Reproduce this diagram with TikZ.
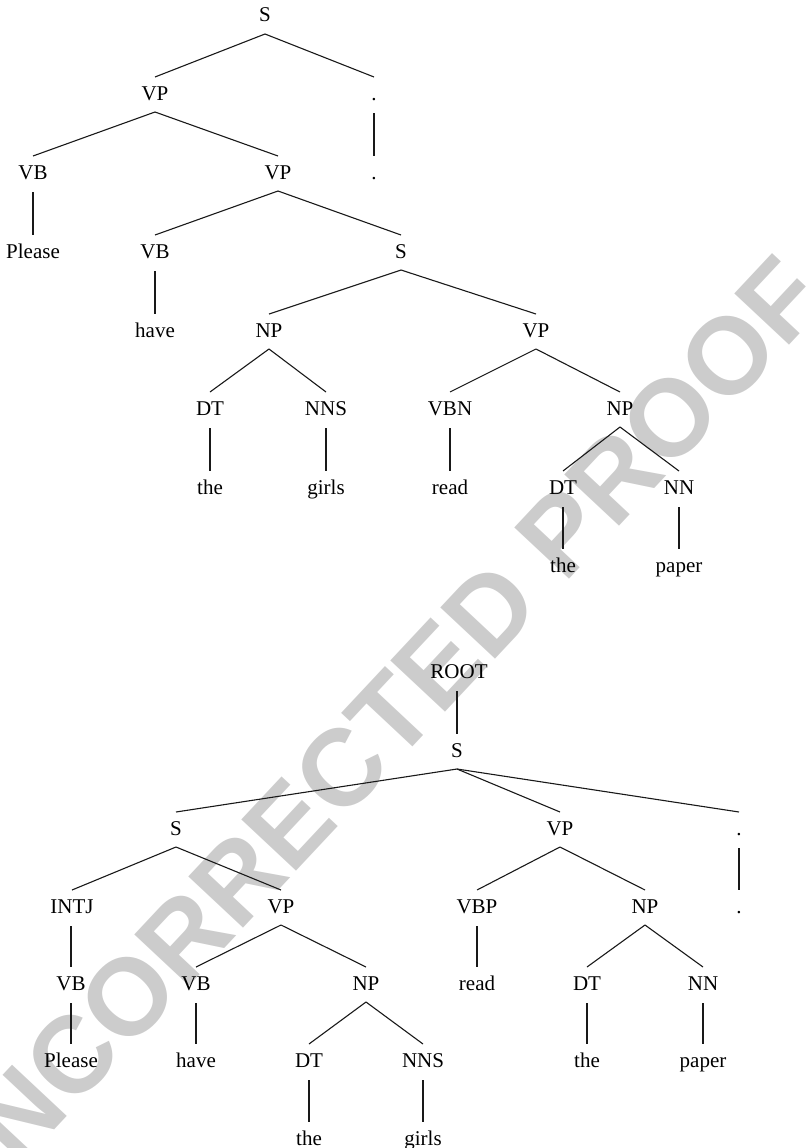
\documentclass[tikz,border=0pt]{standalone}
\usepackage{fontspec}
\setmainfont{Liberation Serif}
\newfontfamily\wmfont{Liberation Sans}
\usetikzlibrary{calc}
\newcommand\brEdge[2]{\draw[edge] ($(#1.base)+(0,12)$) -- ($(#2.base)+(0,-23)$);}
\newcommand\unEdge[2]{\draw[edge] ($(#2.base |- #1.base)+(0,13)$) -- ($(#2.base)+(0,-23)$);}
\begin{document}
\begin{tikzpicture}[x=1pt,y=-1pt,
  lbl/.style={anchor=base, inner sep=0pt, font=\fontsize{21}{25}\selectfont},
  edge/.style={line width=1.1pt, black!90}]
\useasboundingbox (0,0) rectangle (807,1148);
\begin{scope}
\clip (0,0) rectangle (807,1148);
\node[rotate=46.9, inner sep=0pt, text=black!20, font=\wmfont\bfseries\fontsize{109}{109}\selectfont] (wm) at (370,738) {UNCORRECTED PROOF};
\end{scope}
% top tree
\node[lbl] (tS) at (265,22) {S};
\node[lbl] (tVP1) at (155,100) {VP};
\node[lbl] (tdot) at (374,100) {.};
\node[lbl] (tVB1) at (33,179) {VB};
\node[lbl] (tVP2) at (278,179) {VP};
\node[lbl] (tdotw) at (374,179) {.};
\node[lbl] (tPlease) at (33,258) {Please};
\node[lbl] (tVB2) at (155,258) {VB};
\node[lbl] (tS2) at (401,258) {S};
\node[lbl] (thave) at (155,337) {have};
\node[lbl] (tNP1) at (269,337) {NP};
\node[lbl] (tVP3) at (536,337) {VP};
\node[lbl] (tDT1) at (210,415) {DT};
\node[lbl] (tNNS) at (326,415) {NNS};
\node[lbl] (tVBN) at (450,415) {VBN};
\node[lbl] (tNP2) at (620,415) {NP};
\node[lbl] (tthe1) at (210,494) {the};
\node[lbl] (tgirls) at (326,494) {girls};
\node[lbl] (tread) at (450,494) {read};
\node[lbl] (tDT2) at (563,494) {DT};
\node[lbl] (tNN) at (679,494) {NN};
\node[lbl] (tthe2) at (563,572) {the};
\node[lbl] (tpaper) at (679,572) {paper};
\brEdge{tS}{tVP1}
\brEdge{tS}{tdot}
\unEdge{tdot}{tdotw}
\brEdge{tVP1}{tVB1}
\brEdge{tVP1}{tVP2}
\unEdge{tVB1}{tPlease}
\brEdge{tVP2}{tVB2}
\brEdge{tVP2}{tS2}
\unEdge{tVB2}{thave}
\brEdge{tS2}{tNP1}
\brEdge{tS2}{tVP3}
\brEdge{tNP1}{tDT1}
\brEdge{tNP1}{tNNS}
\unEdge{tDT1}{tthe1}
\unEdge{tNNS}{tgirls}
\brEdge{tVP3}{tVBN}
\brEdge{tVP3}{tNP2}
\unEdge{tVBN}{tread}
\brEdge{tNP2}{tDT2}
\brEdge{tNP2}{tNN}
\unEdge{tDT2}{tthe2}
\unEdge{tNN}{tpaper}
% bottom tree
\node[lbl] (bROOT) at (459,678) {ROOT};
\node[lbl] (bS) at (457,757) {S};
\node[lbl] (bS2) at (176,835) {S};
\node[lbl] (bVP) at (560,835) {VP};
\node[lbl] (bdot) at (739,835) {.};
\node[lbl] (bINTJ) at (72,913) {INTJ};
\node[lbl] (bVP2) at (281,913) {VP};
\node[lbl] (bVBP) at (477,913) {VBP};
\node[lbl] (bNP) at (645,913) {NP};
\node[lbl] (bdotw) at (739,913) {.};
\node[lbl] (bVB1) at (71,990) {VB};
\node[lbl] (bVB2) at (196,990) {VB};
\node[lbl] (bNP2) at (366,990) {NP};
\node[lbl] (bread) at (477,990) {read};
\node[lbl] (bDT) at (587,990) {DT};
\node[lbl] (bNN) at (703,990) {NN};
\node[lbl] (bPlease) at (71,1067) {Please};
\node[lbl] (bhave) at (196,1067) {have};
\node[lbl] (bDT2) at (309,1067) {DT};
\node[lbl] (bNNS) at (423,1067) {NNS};
\node[lbl] (bthe) at (587,1067) {the};
\node[lbl] (bpaper) at (703,1067) {paper};
\node[lbl] (bthe2) at (309,1145) {the};
\node[lbl] (bgirls) at (423,1145) {girls};
\unEdge{bROOT}{bS}
\brEdge{bS}{bS2}
\brEdge{bS}{bVP}
\brEdge{bS}{bdot}
\unEdge{bdot}{bdotw}
\brEdge{bS2}{bINTJ}
\brEdge{bS2}{bVP2}
\unEdge{bINTJ}{bVB1}
\unEdge{bVB1}{bPlease}
\brEdge{bVP2}{bVB2}
\brEdge{bVP2}{bNP2}
\unEdge{bVB2}{bhave}
\brEdge{bNP2}{bDT2}
\brEdge{bNP2}{bNNS}
\unEdge{bDT2}{bthe2}
\unEdge{bNNS}{bgirls}
\brEdge{bVP}{bVBP}
\brEdge{bVP}{bNP}
\unEdge{bVBP}{bread}
\brEdge{bNP}{bDT}
\brEdge{bNP}{bNN}
\unEdge{bDT}{bthe}
\unEdge{bNN}{bpaper}
\end{tikzpicture}
\end{document}
